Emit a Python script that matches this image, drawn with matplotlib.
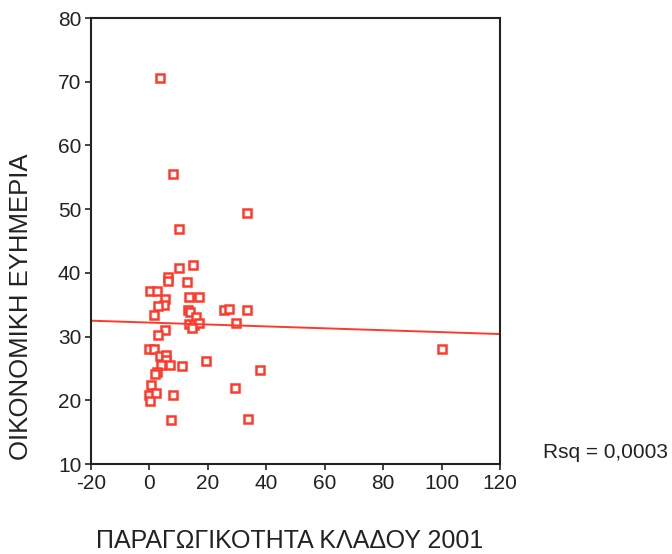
import numpy as np
import matplotlib
matplotlib.use("Agg")
import matplotlib.pyplot as plt

plt.rcParams['font.family'] = ['Liberation Sans', 'DejaVu Sans']
plt.rcParams['axes.unicode_minus'] = False

productivity = [3.7, 7.9, 33.4, 10.0, 10.1, 14.9, 6.3, 6.3, 13.0, 0.1, 2.7, 13.6, 16.8,
                5.5, 5.0, 2.9, 13.2, 14.0, 1.7, 15.9, 25.4, 27.4, 33.4, 29.7, 13.4, 15.1,
                16.8, 5.4, 14.7, 2.9, -0.1, 1.7, 3.7, 5.6, 5.6, 3.9, 6.9, 11.1, 19.5, 37.8,
                2.5, 1.9, 0.6, -0.3, 2.4, 0.25, 8.0, 29.4, 7.5, 33.6, 100.2]
prosperity = [70.6, 55.5, 49.4, 46.9, 40.7, 41.2, 39.3, 38.8, 38.6, 37.1, 37.1, 36.2, 36.2,
              35.9, 34.9, 34.8, 34.1, 33.8, 33.4, 33.1, 34.1, 34.3, 34.1, 32.1, 32.0, 31.8,
              32.1, 31.0, 31.3, 30.2, 28.0, 28.0, 27.0, 27.1, 26.3, 25.6, 25.5, 25.4, 26.2, 24.8,
              24.5, 24.1, 22.4, 20.8, 21.1, 19.9, 20.8, 21.9, 16.85, 17.1, 28.0]
x_ticks = [-20, 0, 20, 40, 60, 80, 100, 120]
y_ticks = [10, 20, 30, 40, 50, 60, 70, 80]
x_label = "ΠΑΡΑΓΩΓΙΚΟΤΗΤΑ ΚΛΑΔΟΥ 2001"
y_label = "ΟΙΚΟΝΟΜΙΚΗ ΕΥΗΜΕΡΙΑ"
rsq_text = "Rsq = 0,0003"

fig = plt.figure(figsize=(6.72, 5.54), dpi=100)
ax = fig.add_axes([91/672, 90/554, 409/672, 446/554])

red = '#ff3a2a'
ax.plot(productivity, prosperity, linestyle='none', marker='s', markersize=5.2,
        markerfacecolor='white', markeredgecolor=red, markeredgewidth=1.8)

slope, intercept = np.polyfit(productivity, prosperity, 1)
xs = np.array([x_ticks[0], x_ticks[-1]])
ax.plot(xs, intercept + slope * xs, color=red, linewidth=1.4)

ax.set_xlim(x_ticks[0], x_ticks[-1])
ax.set_ylim(y_ticks[0], y_ticks[-1])
ax.set_xticks(x_ticks)
ax.set_yticks(y_ticks)
ax.tick_params(direction='out', length=4, width=1.2, labelsize=15, colors='#222222', pad=3)
for s in ax.spines.values():
    s.set_linewidth(1.5)
    s.set_color('#222222')

ax.set_xlabel(x_label, fontsize=18, color='#222222', va='center', ha='center')
ax.xaxis.set_label_coords((290 - 91) / 409, (554 - 541 - 90) / 446)
ax.set_ylabel(y_label, fontsize=18.5, color='#222222', va='center', ha='center')
ax.yaxis.set_label_coords((21 - 91) / 409, (554 - 307 - 90) / 446)
fig.text(543/672, 1 - 453/554, rsq_text, fontsize=15, va='center', ha='left', color='#222222')

fig.savefig("out.png", dpi=100)
